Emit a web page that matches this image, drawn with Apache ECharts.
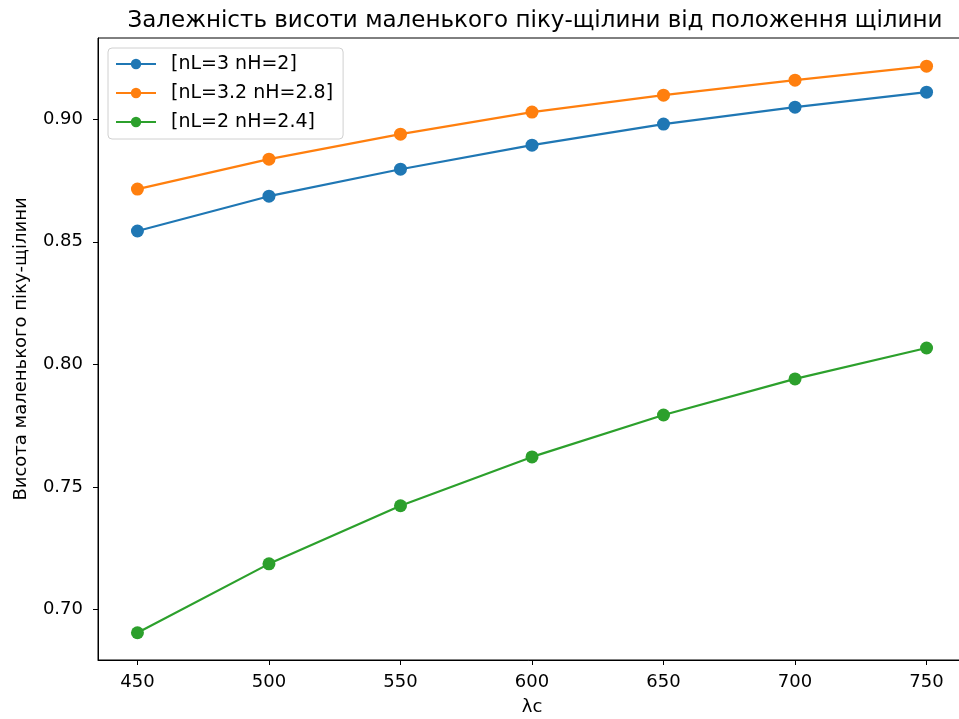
<!DOCTYPE html>
<html><head><meta charset="utf-8">
<script src="https://cdn.jsdelivr.net/npm/echarts@6/dist/echarts.min.js"></script>
<style>html,body{margin:0;padding:0;background:#fff}#c{width:959px;height:719px}</style>
</head><body><div id="c"></div>
<script>
const categories = [450, 500, 550, 600, 650, 700, 750];
const seriesNames = ['[nL=3 nH=2]', '[nL=3.2 nH=2.8]', '[nL=2 nH=2.4]'];
const blue = [0.8544, 0.8686, 0.8796, 0.8894, 0.8980, 0.9049, 0.9110];
const orange = [0.8715, 0.8837, 0.8939, 0.9029, 0.9098, 0.9159, 0.9216];
const green = [0.6906, 0.7187, 0.7424, 0.7623, 0.7794, 0.7941, 0.8067];
const xTicks = [450, 500, 550, 600, 650, 700, 750];
const yTicks = [0.70, 0.75, 0.80, 0.85, 0.90];
const colors = ['#1f77b4', '#ff7f0e', '#2ca02c'];
const values = [blue, orange, green];

const chart = echarts.init(document.getElementById('c'), null, {renderer: 'canvas'});
const font = 'DejaVu Sans';
chart.setOption({
  animation: false,
  backgroundColor: '#fff',
  title: {
    text: 'Залежність висоти маленького піку-щілини від положення щілини',
    left: 530, top: 5, textAlign: 'center',
    textStyle: {fontFamily: font, fontSize: 23, fontWeight: 'normal', color: '#000'}
  },
  grid: {left: 98, right: -7, top: 38, bottom: 59, show: true, borderColor: '#000', borderWidth: 1,
    outerBoundsMode: 'none', containLabel: false},
  legend: {
    orient: 'vertical', left: 108, top: 48,
    backgroundColor: 'rgba(255,255,255,0.8)', borderColor: '#d0d0d0', borderWidth: 1, borderRadius: 4,
    padding: [6, 10, 7, 7], itemGap: 9, itemWidth: 40, itemHeight: 13,
    textStyle: {fontFamily: font, fontSize: 19, color: '#000', lineHeight: 20, padding: [0, 0, 0, 10]},
    data: seriesNames
  },
  xAxis: {
    type: 'value', min: 435, max: 765,
    name: 'λc', nameLocation: 'middle', nameGap: 38,
    nameTextStyle: {fontFamily: font, fontSize: 18, color: '#000'},
    splitLine: {show: false},
    axisLine: {show: true, onZero: false, lineStyle: {color: '#000', width: 1}},
    axisTick: {show: true, length: 5, lineStyle: {color: '#000'}, customValues: xTicks},
    axisLabel: {fontFamily: font, fontSize: 18, color: '#000', margin: 13, customValues: xTicks}
  },
  yAxis: {
    type: 'value', min: 0.6795, max: 0.9331,
    name: 'Висота маленького піку-щілини', nameLocation: 'middle', nameGap: 68,
    nameTextStyle: {fontFamily: font, fontSize: 18, color: '#000'},
    splitLine: {show: false},
    axisLine: {show: true, onZero: false, lineStyle: {color: '#000', width: 1}},
    axisTick: {show: true, length: 5, lineStyle: {color: '#000'}, customValues: yTicks},
    axisLabel: {fontFamily: font, fontSize: 18, color: '#000', margin: 15, customValues: yTicks,
      formatter: v => v.toFixed(2)}
  },
  series: seriesNames.map((n, i) => ({
    name: n, type: 'line',
    data: categories.map((x, j) => [x, values[i][j]]),
    symbol: 'circle', symbolSize: 13,
    lineStyle: {color: colors[i], width: 2.2},
    itemStyle: {color: colors[i]},
    emphasis: {disabled: true}
  }))
});
</script></body></html>
